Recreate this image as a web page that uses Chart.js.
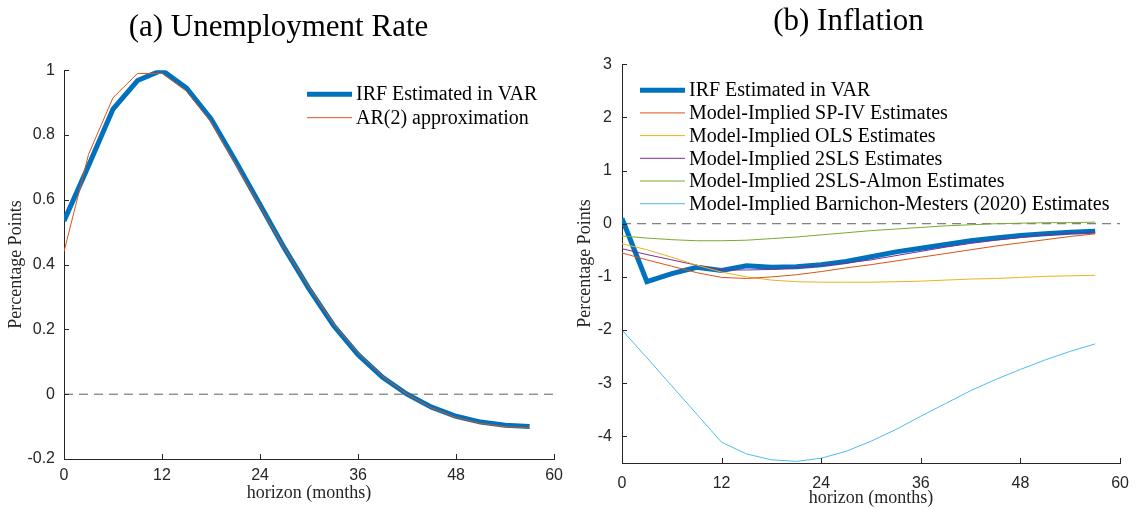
<!DOCTYPE html>
<html>
<head>
<meta charset="utf-8">
<script src="https://cdn.jsdelivr.net/npm/chart.js@4.4.1/dist/chart.umd.min.js"></script>
<style>
  html, body { margin: 0; padding: 0; background: #fff; }
  body { width: 1140px; height: 509px; position: relative; overflow: hidden; }
  canvas { position: absolute; top: 0; }
  #unemp { left: 0; }
  #infl { left: 570px; }
</style>
</head>
<body>
<canvas id="unemp" width="570" height="509"></canvas>
<canvas id="infl" width="570" height="509"></canvas>
<script>
// horizons (months)
const horizon = [0, 3, 6, 9, 12, 15, 18, 21, 24, 27, 30, 33, 36, 39, 42, 45, 48, 51, 54, 57];
const xTicks = [0, 12, 24, 36, 48, 60];

// (a) unemployment rate
const unempVAR = [0.535, 0.705, 0.88, 0.968, 1.0, 0.945, 0.85, 0.72, 0.585, 0.45, 0.325, 0.212, 0.122, 0.052, 0.0, -0.04, -0.068, -0.086, -0.096, -0.1];
const unempAR2 = [0.44, 0.74, 0.915, 0.99, 0.99, 0.935, 0.84, 0.71, 0.58, 0.45, 0.33, 0.217, 0.127, 0.055, 0.0, -0.042, -0.072, -0.09, -0.1, -0.104];
const unempYTicks = [-0.2, 0, 0.2, 0.4, 0.6, 0.8, 1];

// (b) inflation
const inflVAR = [0.1, -1.09, -0.94, -0.82, -0.88, -0.79, -0.82, -0.81, -0.77, -0.71, -0.62, -0.53, -0.46, -0.39, -0.32, -0.27, -0.22, -0.19, -0.16, -0.14];
const inflSPIV = [-0.55, -0.68, -0.8, -0.92, -1.01, -1.03, -1.0, -0.96, -0.9, -0.83, -0.77, -0.7, -0.63, -0.56, -0.49, -0.42, -0.36, -0.3, -0.24, -0.19];
const inflOLS = [-0.375, -0.49, -0.63, -0.78, -0.91, -1.0, -1.06, -1.09, -1.1, -1.1, -1.1, -1.09, -1.08, -1.06, -1.04, -1.03, -1.01, -0.99, -0.98, -0.97];
const infl2SLS = [-0.47, -0.58, -0.68, -0.78, -0.87, -0.87, -0.86, -0.83, -0.79, -0.74, -0.68, -0.6, -0.52, -0.44, -0.37, -0.31, -0.26, -0.21, -0.18, -0.16];
const inflAlmon = [-0.23, -0.27, -0.3, -0.32, -0.32, -0.31, -0.28, -0.25, -0.21, -0.17, -0.13, -0.1, -0.07, -0.04, -0.02, 0.0, 0.01, 0.02, 0.02, 0.03];
const inflBM = [-2.0, -2.52, -3.05, -3.58, -4.11, -4.33, -4.44, -4.47, -4.41, -4.28, -4.09, -3.87, -3.62, -3.38, -3.14, -2.93, -2.74, -2.56, -2.4, -2.26];
const inflYTicks = [-4, -3, -2, -1, 0, 1, 2, 3];

const AXIS = '#262626';
const SERIF = '"Liberation Serif", "Times New Roman", serif';

Chart.defaults.font.family = '"Liberation Sans", Arial, sans-serif';
Chart.defaults.font.size = 16;
Chart.defaults.color = AXIS;

const pts = vals => vals.map((v, i) => ({ x: horizon[i], y: v }));

// MATLAB style tick marks pointing into the plot
const inwardTicks = {
  id: 'inwardTicks',
  afterDraw(chart) {
    const { ctx, chartArea, scales: { x, y } } = chart;
    ctx.save();
    ctx.strokeStyle = AXIS;
    ctx.lineWidth = 1;
    ctx.beginPath();
    x.ticks.forEach(t => {
      const px = Math.round(x.getPixelForValue(t.value)) + 0.5;
      ctx.moveTo(px, chartArea.bottom);
      ctx.lineTo(px, chartArea.bottom - 5);
    });
    y.ticks.forEach(t => {
      const py = Math.round(y.getPixelForValue(t.value)) + 0.5;
      ctx.moveTo(chartArea.left, py);
      ctx.lineTo(chartArea.left + 5, py);
    });
    ctx.stroke();
    ctx.restore();
  }
};

// legend drawn inside the plot, line sample + label
const lineLegend = {
  id: 'lineLegend',
  afterDraw(chart, args, opts) {
    const { ctx, chartArea } = chart;
    ctx.save();
    ctx.font = opts.font;
    ctx.textBaseline = 'middle';
    ctx.fillStyle = '#000';
    chart.data.datasets.filter(d => d.label).forEach((d, i) => {
      const yy = chartArea.top + opts.top + i * opts.rowHeight;
      const x0 = chartArea.left + opts.left;
      ctx.strokeStyle = d.borderColor;
      ctx.lineWidth = d.borderWidth;
      ctx.beginPath();
      ctx.moveTo(x0, yy);
      ctx.lineTo(x0 + opts.sample, yy);
      ctx.stroke();
      ctx.fillText(d.label, x0 + opts.sample + opts.gap, yy + 1);
    });
    ctx.restore();
  }
};

function zeroLine() {
  return {
    data: [{ x: 0, y: 0 }, { x: 60, y: 0 }],
    borderColor: '#5f5f5f',
    borderWidth: 1,
    borderDash: [9, 6],
    pointRadius: 0,
    order: 5
  };
}

function makeChart(id, cfg) {
  return new Chart(document.getElementById(id), {
    type: 'line',
    data: { datasets: cfg.datasets },
    options: {
      responsive: false,
      animation: false,
      layout: { padding: { left: 0, right: 13, top: 0, bottom: 0 } },
      elements: { line: { tension: 0 }, point: { radius: 0 } },
      plugins: {
        legend: { display: false },
        tooltip: { enabled: false },
        title: {
          display: true,
          text: cfg.title,
          color: '#000',
          font: { family: SERIF, size: 31, weight: 'normal', lineHeight: 1.2 },
          padding: cfg.titlePad
        },
        lineLegend: cfg.legend
      },
      scales: {
        x: {
          type: 'linear',
          min: 0,
          max: 60,
          afterBuildTicks: s => { s.ticks = xTicks.map(v => ({ value: v })); },
          afterFit: s => { s.height = cfg.xHeight; },
          grid: { display: false, drawTicks: false },
          border: { display: true, color: AXIS, width: 1 },
          ticks: { padding: cfg.xTickPad, maxRotation: 0, callback: v => String(v) },
          title: {
            display: true,
            text: 'horizon (months)',
            color: AXIS,
            font: { family: SERIF, size: 18, lineHeight: 1.2 },
            padding: { top: 0, bottom: cfg.xTitlePad }
          }
        },
        y: {
          type: 'linear',
          min: cfg.yMin,
          max: cfg.yMax,
          afterBuildTicks: s => { s.ticks = cfg.yTicks.map(v => ({ value: v })); },
          afterFit: s => { s.width = cfg.yWidth; },
          grid: { display: false, drawTicks: false },
          border: { display: true, color: AXIS, width: 1 },
          ticks: { padding: cfg.yTickPad, callback: v => String(v) },
          title: {
            display: true,
            text: 'Percentage Points',
            color: AXIS,
            font: { family: SERIF, size: 18, lineHeight: 1.2 },
            padding: { top: cfg.yTitlePad, bottom: 0 }
          }
        }
      }
    },
    plugins: [inwardTicks, lineLegend]
  });
}

makeChart('unemp', {
  title: '(a) Unemployment Rate',
  titlePad: { top: 9, bottom: 24 },
  yMin: -0.2, yMax: 1, yTicks: unempYTicks,
  yWidth: 64, xHeight: 50,
  xTickPad: 7, yTickPad: 9, xTitlePad: 5, yTitlePad: 5,
  legend: { font: '20px ' + SERIF, left: 243, top: 24, rowHeight: 23.5, sample: 45, gap: 4 },
  datasets: [
    { label: 'IRF Estimated in VAR', data: pts(unempVAR), borderColor: '#0072BD', borderWidth: 5, order: 2 },
    { label: 'AR(2) approximation', data: pts(unempAR2), borderColor: '#D95319', borderWidth: 1, order: 1 },
    zeroLine()
  ]
});

makeChart('infl', {
  title: '(b) Inflation',
  titlePad: { top: 3, bottom: 24 },
  yMin: -4.5, yMax: 3, yTicks: inflYTicks,
  yWidth: 52, xHeight: 46,
  xTickPad: 11, yTickPad: 10, xTitlePad: 0, yTitlePad: 4,
  legend: { font: '20px ' + SERIF, left: 18, top: 26, rowHeight: 22.7, sample: 45, gap: 4 },
  datasets: [
    { label: 'IRF Estimated in VAR', data: pts(inflVAR), borderColor: '#0072BD', borderWidth: 5, order: 3 },
    { label: 'Model-Implied SP-IV Estimates', data: pts(inflSPIV), borderColor: '#D95319', borderWidth: 1, order: 1 },
    { label: 'Model-Implied OLS Estimates', data: pts(inflOLS), borderColor: '#EDB120', borderWidth: 1, order: 1 },
    { label: 'Model-Implied 2SLS Estimates', data: pts(infl2SLS), borderColor: '#7E2F8E', borderWidth: 1, order: 1 },
    { label: 'Model-Implied 2SLS-Almon Estimates', data: pts(inflAlmon), borderColor: '#77AC30', borderWidth: 1, order: 1 },
    { label: 'Model-Implied Barnichon-Mesters (2020) Estimates', data: pts(inflBM), borderColor: '#4DBEEE', borderWidth: 1, order: 1 },
    zeroLine()
  ]
});
</script>
</body>
</html>
